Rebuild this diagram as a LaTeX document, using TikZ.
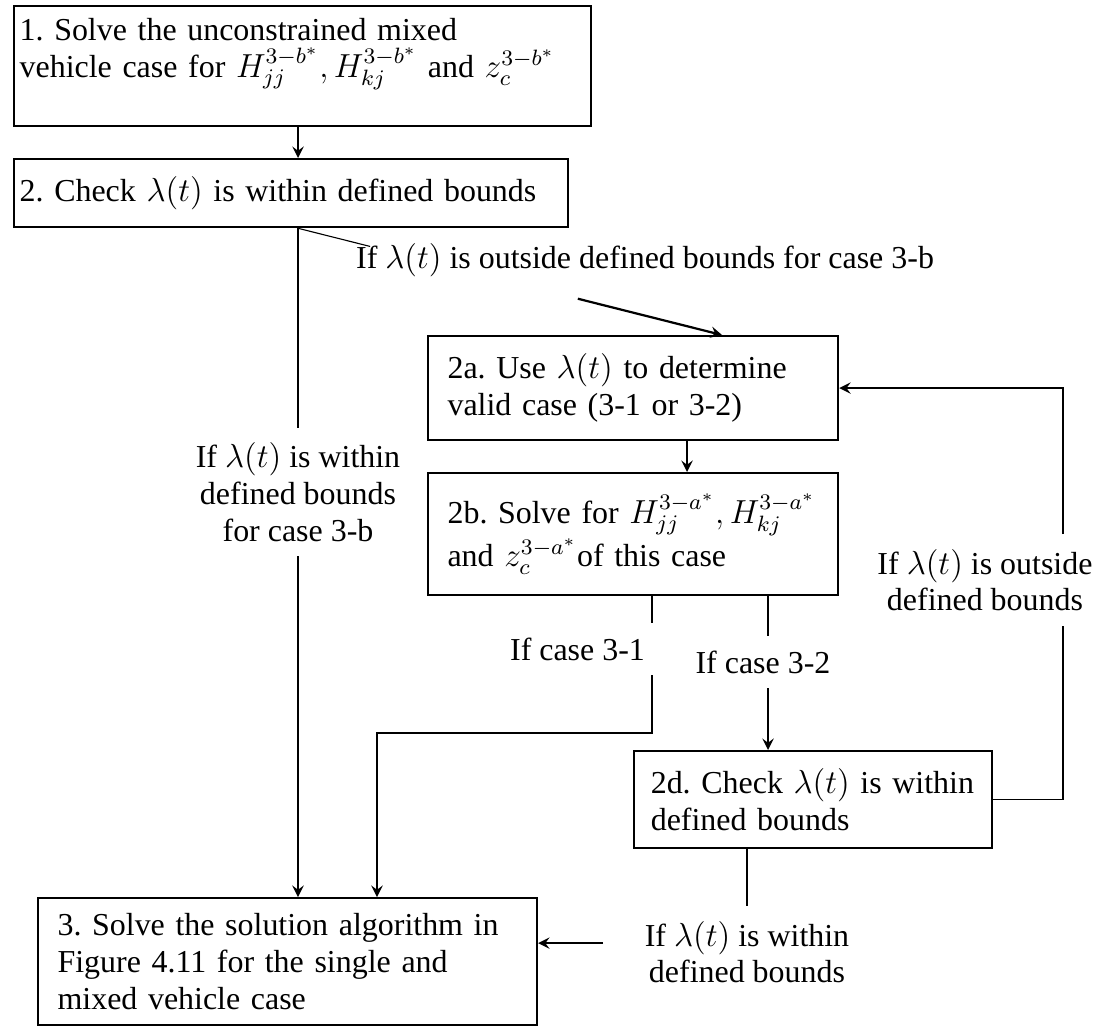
\documentclass[tikz,border=0pt]{standalone}
\usepackage{fontspec}
\setmainfont{Liberation Serif}
\frenchspacing
\begin{document}
\begin{tikzpicture}[x=0.36pt, y=-0.36pt, font=\fontsize{11.5}{13.2}\selectfont]
    % Style definition for the step boxes and the branch labels
    \tikzset{box/.style={rectangle, draw=black, thick, anchor=north west, align=left,
             inner xsep=7pt, inner ysep=2pt}}
    \tikzset{lbl/.style={align=center, inner xsep=2pt, inner ysep=5.2pt}}
    \tikzstyle{arrow} = [thick,->,>=stealth]

    \useasboundingbox (0,0) rectangle (1108,1027);

    % Step boxes
    \node (s1) [box, inner xsep=2pt, text width=203.7pt, minimum height=43.2pt] at (13,5)
        {1. Solve the unconstrained mixed\\ vehicle case for $H_{jj}^{3-b^*}, H_{kj}^{3-b^*}$ and $z_c^{3-b^*}$\\ \mbox{}};
    \node (s2) [box, inner xsep=2pt, text width=195.4pt, minimum height=24.5pt] at (13,158)
        {2. Check $\lambda(t)$ is within defined bounds};
    \node (s2a) [box, text width=133.6pt, minimum height=37.4pt] at (427,335)
        {2a. Use $\lambda(t)$ to determine\\ valid case (3-1 or 3-2)};
    \node (s2b) [box, text width=133.6pt, minimum height=43.9pt] at (427,472)
        {2b. Solve for $H_{jj}^{3-a^*}, H_{kj}^{3-a^*}$\\ and $z_c^{3-a^*}$of this case};
    \node (s2d) [box, inner xsep=6pt, text width=116.9pt, minimum height=34.9pt] at (633,750)
        {\mbox{2d. Check $\lambda(t)$ is within}\\ defined bounds};
    \node (s3) [box, text width=165.6pt, minimum height=45.7pt] at (37,897)
        {3. Solve the solution algorithm in\\ Figure 4.11 for the single and\\ mixed vehicle case};

    % Columns and rows the connectors run along
    \coordinate (xl) at (298,0);
    \coordinate (xa) at (722,0);
    \coordinate (xb) at (687,0);
    \coordinate (x1) at (652,0);
    \coordinate (x2) at (768,0);
    \coordinate (xm) at (377,0);
    \coordinate (xr) at (1063,0);
    \coordinate (yk) at (0,733);

    % Branch labels
    \node (lout) [lbl, anchor=base west] at (350,268) {If $\lambda(t)$ is outside defined bounds for case 3-b};
    \node (lin) [lbl] at (298,492) {If $\lambda(t)$ is within\\ defined bounds\\ for case 3-b};
    \node (l31) [lbl, anchor=base west] at (504,660) {If case 3-1};
    \node (l32) [lbl, anchor=base] at (763,673) {If case 3-2};
    \node (lrout) [lbl] at (985,580) {If $\lambda(t)$ is outside\\ defined bounds};
    \node (lwin) [lbl, inner xsep=14.8pt] at (747,952) {If $\lambda(t)$ is within\\ defined bounds};

    % Connectors
    \draw [arrow] (s1.south -| xl) -- (s2.north -| xl);
    \draw (s2.south -| xl) -- (lin.north);
    \draw [arrow] (lin.south) -- (s3.north -| xl);
    \path (s2.south -| xl) -- (s2a.north -| xa) coordinate[pos=0.17] (g1) coordinate[pos=0.66] (g2);
    \draw (s2.south -| xl) -- (g1);
    \draw [arrow] (g2) -- (s2a.north -| xa);
    \draw [arrow] (s2a.south -| xb) -- (s2b.north -| xb);
    \draw (s2b.south -| x1) -- (l31.north -| x1);
    \draw [arrow] (l31.south -| x1) |- (xm |- yk) -- (s3.north -| xm);
    \draw (s2b.south -| x2) -- (l32.north -| x2);
    \draw [arrow] (l32.south -| x2) -- (s2d.north -| x2);
    \draw (s2d.east) -| (lrout.south -| xr);
    \draw [arrow] (lrout.north -| xr) |- (s2a.east);
    \draw (s2d.south -| lwin) -- (lwin.north);
    \draw [arrow] ([yshift=3.2pt]lwin.west) -- ([yshift=3.2pt]lwin.west -| s3.east);
\end{tikzpicture}
\end{document}
